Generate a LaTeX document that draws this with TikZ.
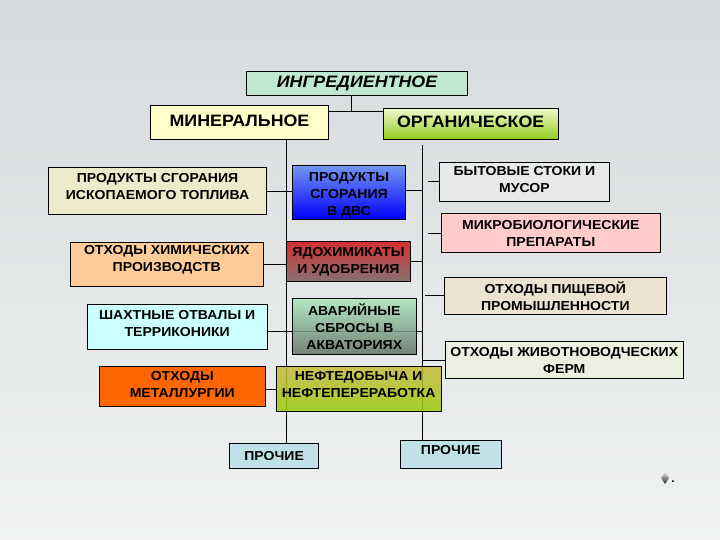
\documentclass[tikz,border=0pt]{standalone}
\usepackage{fontspec}
\setmainfont{Liberation Sans}[FakeStretch=1.08]
\usetikzlibrary{backgrounds}

\definecolor{bgtop}{RGB}{214,218,220}
\definecolor{bgmid}{RGB}{236,238,239}
\definecolor{bgbot}{RGB}{240,242,242}
\definecolor{ingrfill}{RGB}{190,232,208}
\definecolor{minfill}{RGB}{255,255,204}
\definecolor{orgtop}{RGB}{238,250,200}
\definecolor{orgbot}{RGB}{146,204,30}
\definecolor{fuelfill}{RGB}{238,234,204}
\definecolor{dvstop}{RGB}{115,150,245}
\definecolor{dvsbot}{RGB}{0,0,250}
\definecolor{chemfill}{RGB}{255,204,153}
\definecolor{pesttop}{RGB}{212,48,48}
\definecolor{pestbot}{RGB}{136,112,112}
\definecolor{minefill}{RGB}{204,255,255}
\definecolor{spilltop}{RGB}{170,232,190}
\definecolor{spillbot}{RGB}{96,112,100}
\definecolor{metalfill}{RGB}{255,102,0}
\definecolor{oiltop}{RGB}{200,186,58}
\definecolor{oilbot}{RGB}{152,202,8}
\definecolor{wastefill}{RGB}{232,234,234}
\definecolor{microfill}{RGB}{255,204,204}
\definecolor{foodfill}{RGB}{236,226,208}
\definecolor{farmfill}{RGB}{236,240,224}
\definecolor{othfill}{RGB}{190,226,232}

\tikzset{
	blk/.style={draw=black, line width=0.9pt, align=center, inner sep=1pt,
		font=\fontsize{13}{17}\selectfont\bfseries},
	bigblk/.style={blk, font=\fontsize{16.5}{18}\selectfont\bfseries},
	wire/.style={line width=0.9pt}
}

\begin{document}
\begin{tikzpicture}[x=1pt,y=-1pt]
		\useasboundingbox (0,0) rectangle (720,540);
		
		% top level
		\node[bigblk,fill=ingrfill,minimum width=221pt,minimum height=24pt] (ingr) at (357,83.5) {\itshape ИНГРЕДИЕНТНОЕ};
		\node[bigblk,fill=minfill,minimum width=178pt,minimum height=34pt,text depth=4pt] (min) at (239.5,122.5) {МИНЕРАЛЬНОЕ};
		\node[bigblk,top color=orgtop,bottom color=orgbot,minimum width=175pt,minimum height=31pt,text depth=4pt] (org) at (470.7,124.2) {ОРГАНИЧЕСКОЕ};
		
		% mineral side
		\node[blk,fill=fuelfill,minimum width=218pt,minimum height=47pt,text depth=10pt] (fuel) at (157.5,191) {ПРОДУКТЫ СГОРАНИЯ\\ИСКОПАЕМОГО ТОПЛИВА};
		\node[blk,fill=chemfill,minimum width=193.5pt,minimum height=44pt,text depth=11pt] (chem) at (166.8,264.3) {ОТХОДЫ ХИМИЧЕСКИХ\\ПРОИЗВОДСТВ};
		\node[blk,fill=minefill,minimum width=180pt,minimum height=45pt,text depth=6pt] (mine) at (177.2,326.8) {ШАХТНЫЕ ОТВАЛЫ И\\ТЕРРИКОНИКИ};
		\node[blk,fill=metalfill,minimum width=165.4pt,minimum height=40pt,text depth=4pt] (metal) at (182.3,386.4) {ОТХОДЫ\\МЕТАЛЛУРГИИ};
		
		% middle column
		\node[blk,top color=dvstop,bottom color=dvsbot,minimum width=113pt,minimum height=52pt,text height=49pt] (dvs) at (349,192.3) {ПРОДУКТЫ\\СГОРАНИЯ\\В ДВС};
		\node[blk,top color=pesttop,bottom color=pestbot,minimum width=124pt,minimum height=40pt] (pest) at (348.5,261.4) {ЯДОХИМИКАТЫ\\И УДОБРЕНИЯ};
		\node[blk,top color=spilltop,bottom color=spillbot,fill opacity=0.85,text opacity=1,minimum width=123.5pt,minimum height=56pt] (spill) at (354.3,326.3) {АВАРИЙНЫЕ\\СБРОСЫ В\\АКВАТОРИЯХ};
		\node[blk,top color=oiltop,bottom color=oilbot,fill opacity=0.85,text opacity=1,minimum width=165.2pt,minimum height=44.8pt,text depth=9pt] (oil) at (358.6,388.8) {НЕФТЕДОБЫЧА И\\НЕФТЕПЕРЕРАБОТКА};
		
		% organic side
		\node[blk,fill=wastefill,minimum width=170pt,minimum height=39.2pt,text depth=4pt] (waste) at (524.4,181.8) {БЫТОВЫЕ СТОКИ И\\МУСОР};
		\node[blk,fill=microfill,minimum width=219.5pt,minimum height=39pt] (micro) at (550.8,233) {МИКРОБИОЛОГИЧЕСКИЕ\\ПРЕПАРАТЫ};
		\node[blk,fill=foodfill,minimum width=222pt,minimum height=37pt] (food) at (555.3,295.8) {ОТХОДЫ ПИЩЕВОЙ\\ПРОМЫШЛЕННОСТИ};
		\node[blk,fill=farmfill,minimum width=238pt,minimum height=37.5pt] (farm) at (564.3,360) {ОТХОДЫ ЖИВОТНОВОДЧЕСКИХ\\ФЕРМ};
		
		% others
		\node[blk,fill=othfill,minimum width=89pt,minimum height=25pt] (othL) at (274.1,455.8) {ПРОЧИЕ};
		\node[blk,fill=othfill,minimum width=100.5pt,minimum height=28pt,text depth=9pt] (othR) at (450.7,454.3) {ПРОЧИЕ};
		
		\shade[top color=gray!20,bottom color=black!85] (665,472) -- (669,478) -- (665,484) -- (661,478) -- cycle;
		\node[font=\bfseries\fontsize{11}{12}\selectfont,inner sep=0pt] (dot) at (673,482) {.};
		
		\coordinate (j) at (351,111);
		\coordinate (sl) at (286.5,0);
		\coordinate (sr) at (422,145);
		\coordinate (minex) at ([yshift=-5pt]mine.east);
		\coordinate (metalex) at ([yshift=-3pt]metal.east);
		\coordinate (dvsex) at ([yshift=2pt]dvs.east);
		
		\begin{scope}[on background layer]
		\shade[top color=bgtop,middle color=bgmid,bottom color=bgbot] (0,0) rectangle (720,540);
		\draw[wire] (j |- ingr.south) -- (j);
		\draw[wire] (min.east |- j) -- (org.west |- j);
		\draw[wire] (sl |- min.south) -- (sl |- othL.north);
		\draw[wire] (sr) -- (sr |- othR.north);
		
		\draw[wire] (fuel.east) -- (fuel.east -| dvs.west);
		\draw[wire] (chem.east) -- (chem.east -| pest.west);
		\draw[wire] (minex) -- (sr |- minex);
		\draw[wire] (metalex) -- (metalex -| oil.west);
		\draw[wire] (dvsex) -- (sr |- dvsex);
		\draw[wire] (pest.east) -- (sr |- pest.east);
		
		\foreach \n/\gap in {waste/6,micro/6,food/3,farm/0}
			\draw[wire] ([xshift=\gap pt]sr |- \n.west) -- (\n.west);
		\end{scope}
	\end{tikzpicture}
\end{document}
